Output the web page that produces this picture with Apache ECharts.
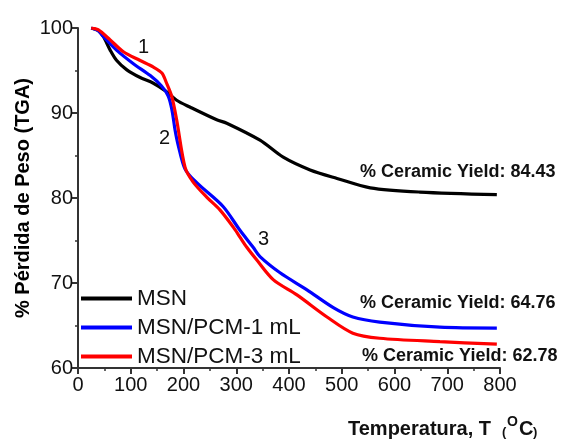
<!DOCTYPE html>
<html>
<head>
<meta charset="utf-8">
<script src="https://cdn.jsdelivr.net/npm/echarts@6/dist/echarts.min.js"></script>
<style>
  html, body { margin: 0; padding: 0; background: #fff; }
  #chart { width: 564px; height: 441px; }
</style>
</head>
<body>
<div id="chart"></div>
<script>
// TGA curves, temperature (C) and weight (%)
const msnT = [25, 38, 48, 61, 73, 92, 117, 143, 168, 187, 212, 263, 282, 345, 389, 440, 491, 554, 648, 794];
const msnW = [100, 99.7, 99.0, 97.4, 96.2, 95.1, 94.2, 93.5, 92.5, 91.5, 90.7, 89.2, 88.8, 86.8, 84.8, 83.3, 82.3, 81.2, 80.7, 80.4];

const pcm1T = [25, 38, 48, 73, 105, 137, 158, 171, 178, 184, 190, 203, 225, 275, 307, 332, 345, 383, 434, 484, 521, 572, 686, 794];
const pcm1W = [100, 99.7, 99.0, 97.4, 95.8, 94.4, 93.2, 92.0, 90.4, 88.0, 86.2, 83.4, 81.8, 79.0, 76.2, 74.2, 73.1, 71.2, 69.2, 67.1, 66.0, 65.4, 64.8, 64.7];

const pcm3T = [25, 38, 61, 86, 117, 143, 159, 168, 178, 187, 203, 218, 244, 269, 294, 307, 320, 339, 370, 415, 472, 521, 572, 686, 794];
const pcm3W = [100, 99.8, 98.6, 97.2, 96.2, 95.4, 94.7, 93.5, 91.9, 89.2, 83.6, 81.9, 80.1, 78.6, 76.6, 75.4, 74.2, 72.7, 70.4, 68.6, 66.0, 64.1, 63.5, 63.1, 62.8];

const seriesNames = ['MSN', 'MSN/PCM-1 mL', 'MSN/PCM-3 mL'];
const seriesColors = ['#000000', '#0000ff', '#ff0000'];
const yieldLabels = ['% Ceramic Yield: 84.43', '% Ceramic Yield: 64.76', '% Ceramic Yield: 62.78'];

const pairs = (xs, ys) => xs.map((x, i) => [x, ys[i]]);
const curves = [pairs(msnT, msnW), pairs(pcm1T, pcm1W), pairs(pcm3T, pcm3W)];

const chart = echarts.init(document.getElementById('chart'));
const font = 'Liberation Sans, Arial, sans-serif';

// small helper for the free text pieces
const txt = (left, top, text, size, bold) => ({
  type: 'text', left, top,
  style: { text, fontSize: size, fontWeight: bold ? 'bold' : 'normal', fontFamily: font, fill: '#111' }
});

chart.setOption({
  animation: false,
  grid: { left: 78, right: 64, top: 28, bottom: 73 },
  xAxis: {
    type: 'value', min: 0, max: 800, interval: 100,
    axisLine: { lineStyle: { color: '#333', width: 2 } },
    axisTick: { length: 6, lineStyle: { color: '#333', width: 2 } },
    minorTick: { show: true, splitNumber: 2, length: 3, lineStyle: { color: '#333', width: 1.5 } },
    splitLine: { show: false },
    axisLabel: { color: '#111', fontSize: 20, fontFamily: font, margin: 7 }
  },
  yAxis: {
    type: 'value', min: 60, max: 100, interval: 10,
    name: '% Pérdida de Peso (TGA)', nameLocation: 'middle', nameGap: 45, nameMoveOverlap: false,
    nameTextStyle: { color: '#000', fontSize: 20, fontWeight: 'bold', fontFamily: font },
    axisLine: { show: true, lineStyle: { color: '#333', width: 2 } },
    axisTick: { show: true, length: 6, lineStyle: { color: '#333', width: 2 } },
    minorTick: { show: true, splitNumber: 2, length: 3, lineStyle: { color: '#333', width: 1.5 } },
    splitLine: { show: false },
    axisLabel: { color: '#111', fontSize: 20, fontFamily: font, margin: 5 }
  },
  legend: {
    orient: 'vertical', left: 76, top: 282,
    itemWidth: 51, itemHeight: 4, itemGap: 6,
    icon: 'rect',
    textStyle: { fontSize: 22.5, fontFamily: font, color: '#111' },
    data: seriesNames
  },
  series: seriesNames.map((name, i) => ({
    name, type: 'line', data: curves[i], smooth: 0.3,
    showSymbol: false, z: 2 + i,
    lineStyle: { color: seriesColors[i], width: 3.2 },
    itemStyle: { color: seriesColors[i] }
  })),
  graphic: [
    txt(138, 37, '1', 20),
    txt(159, 128, '2', 20),
    txt(258, 229, '3', 20),
    txt(360, 163, yieldLabels[0], 18, true),
    txt(360, 294, yieldLabels[1], 18, true),
    txt(362, 347, yieldLabels[2], 18, true),
    // x axis title: Temperatura, T (oC) with raised O
    txt(348, 419, 'Temperatura, T', 20, true),
    txt(502, 426, '(', 13, true),
    txt(507, 415, 'O', 14, true),
    txt(519, 419, 'C', 20, true),
    txt(533, 426, ')', 13, true)
  ]
});
</script>
</body>
</html>
